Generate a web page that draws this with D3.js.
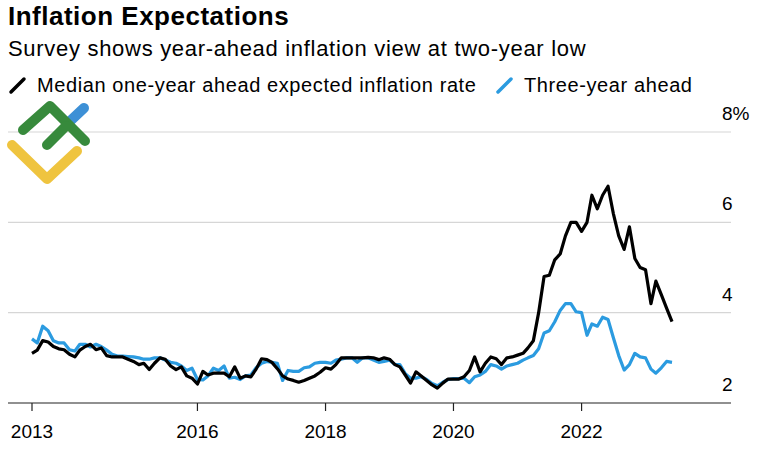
<!DOCTYPE html>
<html lang="en">
<head>
    <meta charset="UTF-8">
    <script src="https://d3js.org/d3.v7.min.js"></script>
    <title>Inflation Expectations</title>
    <style>
        body { margin: 0; background: #fff; }
        text { font-family: "Liberation Sans", Arial, sans-serif; fill: #000; }
    </style>
</head>
<body>
    <script type="text/javascript">

// monthly survey readings, first month is June 2013
var startMonth = new Date(2013, 5, 1);

var oneYear = [
    3.10, 3.17, 3.38, 3.35, 3.25, 3.20, 3.18, 3.08, 3.02, 3.17,
    3.25, 3.30, 3.18, 3.22, 3.05, 3.02, 3.02, 3.02, 2.97, 2.92,
    2.85, 2.88, 2.74, 2.88, 3.00, 2.97, 2.82, 2.74, 2.80, 2.60,
    2.55, 2.42, 2.70, 2.62, 2.66, 2.66, 2.66, 2.58, 2.80, 2.55,
    2.60, 2.58, 2.75, 2.98, 2.96, 2.90, 2.76, 2.60, 2.53, 2.50,
    2.46, 2.50, 2.55, 2.60, 2.68, 2.78, 2.75, 2.85, 3.00, 3.00,
    3.00, 3.00, 3.00, 3.01, 3.00, 2.96, 3.00, 2.97, 2.85, 2.80,
    2.62, 2.44, 2.69, 2.60, 2.50, 2.40, 2.33, 2.44, 2.53, 2.53,
    2.53, 2.58, 2.72, 3.02, 2.69, 2.88, 3.02, 2.98, 2.85, 3.00,
    3.02, 3.06, 3.10, 3.22, 3.38, 4.00, 4.80, 4.83, 5.17, 5.30,
    5.70, 6.00, 6.00, 5.80, 6.00, 6.60, 6.30, 6.60, 6.80, 6.20,
    5.70, 5.40, 5.90, 5.20, 5.00, 4.95, 4.20, 4.70, 4.40, 4.10,
    3.80
];

var threeYear = [
    3.42, 3.33, 3.70, 3.60, 3.38, 3.33, 3.33, 3.18, 3.15, 3.30,
    3.30, 3.24, 3.30, 3.25, 3.17, 3.08, 3.04, 3.04, 3.03, 3.02,
    3.00, 2.97, 2.97, 3.00, 3.00, 2.95, 2.90, 2.88, 2.82, 2.72,
    2.77, 2.52, 2.51, 2.60, 2.77, 2.72, 2.82, 2.55, 2.57, 2.52,
    2.60, 2.62, 2.78, 2.88, 2.92, 2.90, 2.88, 2.50, 2.72, 2.70,
    2.70, 2.78, 2.80, 2.88, 2.90, 2.90, 2.88, 2.95, 2.97, 3.00,
    3.00, 2.90, 3.00, 3.00, 2.95, 2.90, 2.92, 2.95, 2.85, 2.85,
    2.65, 2.55, 2.55, 2.58, 2.52, 2.43, 2.38, 2.46, 2.52, 2.54,
    2.54, 2.55, 2.45, 2.58, 2.62, 2.70, 2.85, 2.82, 2.75, 2.82,
    2.85, 2.88, 2.95, 3.00, 3.05, 3.20, 3.55, 3.60, 3.80, 4.05,
    4.20, 4.20, 4.02, 4.00, 3.50, 3.75, 3.70, 3.90, 3.85, 3.45,
    3.05, 2.73, 2.85, 3.10, 3.02, 3.00, 2.75, 2.66, 2.78, 2.92,
    2.90
];

var yTicks = [2, 4, 6, 8];
var xTicks = [new Date(2013, 5, 1), new Date(2016, 0, 1), new Date(2018, 0, 1),
              new Date(2020, 0, 1), new Date(2022, 0, 1)];
var xTickLabels = ["2013", "2016", "2018", "2020", "2022"];

var width = 758, height = 451;
var left = 8, right = 731;

var svg = d3.select("body").append("svg").attr("width", width).attr("height", height);

var x = d3.scaleTime()
    .domain([startMonth, d3.timeMonth.offset(startMonth, oneYear.length - 1)])
    .range([32, 672]);
var y = d3.scaleLinear().domain([2, 8]).range([403, 132]);

// title block
svg.append("text").attr("x", 8).attr("y", 25)
    .style("font-size", "26px").style("font-weight", "bold").style("letter-spacing", "0.5px")
    .text("Inflation Expectations");
svg.append("text").attr("x", 8).attr("y", 56)
    .style("font-size", "22px").style("letter-spacing", "0.7px")
    .text("Survey shows year-ahead inflation view at two-year low");

// legend
var legend = [
    { label: "Median one-year ahead expected inflation rate", color: "#000", x: 11 },
    { label: "Three-year ahead", color: "#2b9be0", x: 498 }
];
legend.forEach(function(d) {
    svg.append("line")
        .attr("x1", d.x).attr("y1", 92).attr("x2", d.x + 13).attr("y2", 79)
        .attr("stroke", d.color).attr("stroke-width", 3.5).attr("stroke-linecap", "round");
    svg.append("text").attr("x", d.x + 26).attr("y", 92)
        .style("font-size", "20px").style("letter-spacing", "0.6px").text(d.label);
});

// grid and right-side labels
yTicks.forEach(function(v) {
    if (v > 2) {
        svg.append("line")
            .attr("x1", left).attr("x2", right).attr("y1", y(v)).attr("y2", y(v))
            .attr("stroke", "#d6d6d6").attr("stroke-width", 1.2);
    }
    svg.append("text").attr("x", 722).attr("y", y(v) - 12)
        .style("font-size", "19px")
        .text(v === 8 ? v + "%" : v);
});

// baseline with ticks
svg.append("line")
    .attr("x1", left).attr("x2", right).attr("y1", y(2)).attr("y2", y(2))
    .attr("stroke", "#222").attr("stroke-width", 1.2);
xTicks.forEach(function(t, i) {
    svg.append("line")
        .attr("x1", x(t)).attr("x2", x(t)).attr("y1", y(2)).attr("y2", y(2) + 8)
        .attr("stroke", "#222").attr("stroke-width", 1.2);
    svg.append("text").attr("x", x(t)).attr("y", 438)
        .attr("text-anchor", "middle").style("font-size", "19px")
        .text(xTickLabels[i]);
});

// lines
var valueline = d3.line()
    .x(function(d, i) { return x(d3.timeMonth.offset(startMonth, i)); })
    .y(function(d) { return y(d); });

svg.append("path").datum(threeYear)
    .attr("fill", "none").attr("stroke", "#2b9be0").attr("stroke-width", 3.2)
    .attr("stroke-linejoin", "round").attr("d", valueline);
svg.append("path").datum(oneYear)
    .attr("fill", "none").attr("stroke", "#000").attr("stroke-width", 3.2)
    .attr("stroke-linejoin", "round").attr("d", valueline);

// watermark logo, top left
var logo = svg.append("g").attr("fill", "none")
    .attr("stroke-linecap", "round").attr("stroke-linejoin", "round").attr("stroke-width", 10);
logo.append("polyline").attr("points", "12,145 47,179 77,151").attr("stroke", "#efc43f");
logo.append("line").attr("x1", 67).attr("y1", 124).attr("x2", 84).attr("y2", 108).attr("stroke", "#3d90d6");
logo.append("polyline").attr("points", "23,130 50,106 85,141").attr("stroke", "#378a3c");
logo.append("line").attr("x1", 47).attr("y1", 145).attr("x2", 66).attr("y2", 126).attr("stroke", "#378a3c");

    </script>
</body>
</html>
